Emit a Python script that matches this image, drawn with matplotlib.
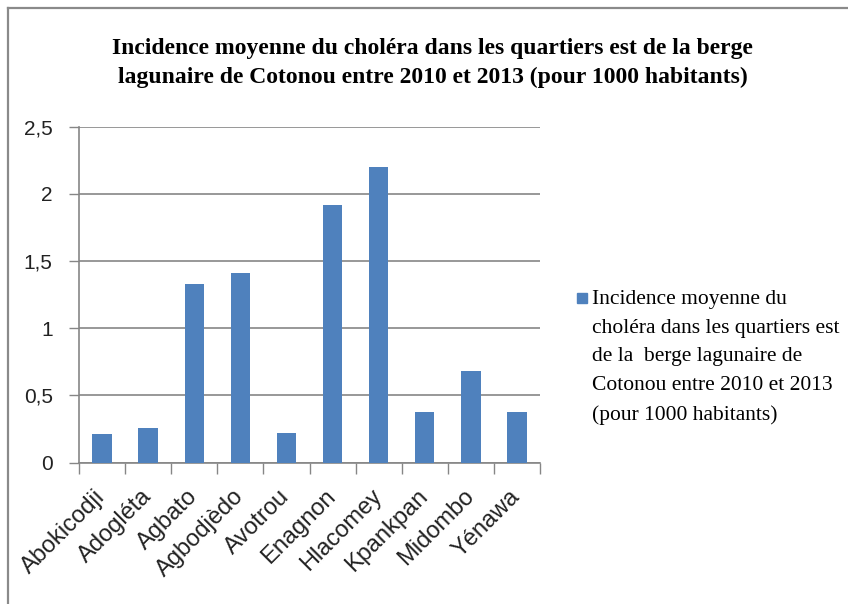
import matplotlib
matplotlib.use("Agg")
import matplotlib.pyplot as plt
from matplotlib.patches import Rectangle
from matplotlib.lines import Line2D

categories = ["Abokicodji", "Adogléta", "Agbato", "Agbodjèdo", "Avotrou",
              "Enagnon", "Hlacomey", "Kpankpan", "Midombo", "Yénawa"]
values = [0.21, 0.26, 1.33, 1.41, 0.22, 1.92, 2.20, 0.38, 0.68, 0.38]
yticks = [0, 0.5, 1, 1.5, 2, 2.5]
ytick_labels = ["0", "0,5", "1", "1,5", "2", "2,5"]
title = ("Incidence moyenne du choléra dans les quartiers est de la berge\n"
         "lagunaire de Cotonou entre 2010 et 2013 (pour 1000 habitants)")
legend_label = ("Incidence moyenne du\ncholéra dans les quartiers est\n"
                "de la  berge lagunaire de\nCotonou entre 2010 et 2013\n"
                "(pour 1000 habitants)")

bar_color = "#4F81BD"
grid_color = "#868686"

fig = plt.figure(figsize=(8.48, 6.04), dpi=100)
ax = fig.add_axes([0.0932, 0.234, 0.5436, 0.5563])

x = list(range(len(categories)))
ax.bar(x, values, width=0.42, color=bar_color, zorder=3)
ax.set_xlim(-0.5, len(categories) - 0.5)
ax.set_ylim(0, 2.5)
ax.set_yticks(yticks)
ax.set_yticklabels(ytick_labels, fontsize=15, family="Liberation Sans",
                   color="#222222")
ax.yaxis.grid(True, color=grid_color, linewidth=1.2, zorder=0)
ax.set_axisbelow(True)

ax.set_xticks(x)
ax.set_xticklabels(categories, rotation=45, ha="right", va="center",
                   rotation_mode="anchor", fontsize=17,
                   family="Liberation Sans", color="#222222")
ax.tick_params(axis="x", length=0, pad=22)
ax.set_xticks([i - 0.5 for i in range(len(categories) + 1)], minor=True)
ax.tick_params(axis="x", which="minor", length=8, color=grid_color, width=1)
ax.tick_params(axis="y", length=7, color=grid_color, width=1, pad=12)

for s in ["top", "right"]:
    ax.spines[s].set_visible(False)
for s in ["left", "bottom"]:
    ax.spines[s].set_color(grid_color)
    ax.spines[s].set_linewidth(1.2)

fig.text(0.51, 0.8957, title, ha="center", va="center", fontsize=17,
         fontweight="bold", family="Liberation Serif", linespacing=1.45)

# legend (manual, handle aligned with first line)
fig.patches.append(Rectangle((577 / 848, 1 - 303 / 604), 10 / 848, 10 / 604,
                             transform=fig.transFigure, color=bar_color))
fig.text(592 / 848, 1 - 290 / 604, legend_label, ha="left", va="top",
         fontsize=15.5, family="Liberation Serif", linespacing=1.69)

# outer frame (top and left edges only visible)
fig.lines.append(Line2D([7.5 / 848, 7.5 / 848], [0, 1 - 7.5 / 604],
                        transform=fig.transFigure, color="#8a8a8a",
                        linewidth=1.6))
fig.lines.append(Line2D([7.5 / 848, 1], [1 - 7.5 / 604, 1 - 7.5 / 604],
                        transform=fig.transFigure, color="#8a8a8a",
                        linewidth=1.6))

fig.savefig("out.png", dpi=100)
